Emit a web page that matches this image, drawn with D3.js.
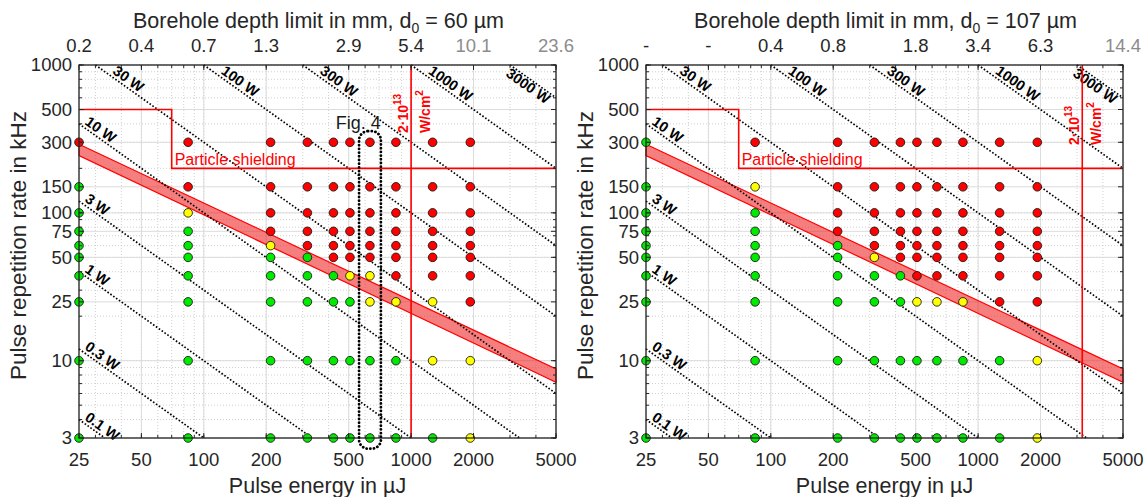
<!DOCTYPE html>
<html>
<head>
<meta charset="utf-8">
<script src="https://cdn.jsdelivr.net/npm/d3@7"></script>
<style>
  body { margin: 0; background: #fff; }
  svg { display: block; font-family: "Liberation Sans", Arial, Helvetica, sans-serif; }
</style>
</head>
<body>
<svg id="chart" width="1148" height="497"></svg>
<script>
// measured grid: pulse energy columns (µJ) and repetition rate rows (kHz)
const energies = [25, 84, 210, 316, 422, 507, 633, 845, 1270, 1930];
const rates = [300, 150, 100, 75, 60, 50, 37.5, 25, 10, 3];

// result per energy column, one letter per rate row above (R red, Y yellow, G green)
const resultsLeft = [
  'RGGGGGGGGG', 'RRYGGGGGGG', 'RRRRYGGGGG', 'RRRRRGGGGG', 'RRRRRRGGGG',
  'RRRRRRYGGG', 'RRRRRRYYGG', 'RRRRRRRYGG', 'RRRRRRRYYG', 'RRRRRRRRYY'
];
const resultsRight = [
  'GGGGGGGGGG', 'RYGGGGGGGG', 'RRRRGGGGGG', 'RRRRRYGGGG', 'RRRRRRGGGG',
  'RRRRRRRYGG', 'RRRRRRRYGG', 'RRRRRRRYGG', 'RRRRRRRRGG', 'RRRRRRRRYY'
];

const energyTicks = [25, 50, 100, 200, 500, 1000, 2000, 5000];
const rateTicks = [3, 10, 25, 50, 75, 100, 150, 300, 500, 1000];
const depthLabelsLeft = ['0.2', '0.4', '0.7', '1.3', '2.9', '5.4', '10.1', '23.6'];
const depthLabelsRight = ['-', '-', '0.4', '0.8', '1.8', '3.4', '6.3', '14.4'];
const depthGreyLeft = [0, 0, 0, 0, 0, 0, 1, 1];
const depthGreyRight = [0, 0, 0, 0, 0, 0, 0, 1];

// average power iso-lines in W (E[µJ] * f[kHz] = P[mW])
const powerLevels = [0.1, 0.3, 1, 3, 10, 30, 100, 300, 1000, 3000];

// red band edges, [energy, rate]
const bandUpper = [[25, 291], [5000, 8.8]];
const bandLower = [[25, 244], [5000, 7.15]];
// particle shielding limit
const shielding = [[25, 500], [70, 500], [70, 200], [5000, 200]];
// energy where 2e13 W/cm^2 is reached
const intensityEnergyLeft = 1000;
const intensityEnergyRight = 3180;
// dotted "Fig. 4" frame (left panel only)
const fig4Energy = [561, 715];
const fig4Rate = [2.54, 357];

const colors = { R: '#ff0000', Y: '#ffff00', G: '#00ea00' };
const ink = '#262626';

const svg = d3.select('#chart');
const W = 477, H = 373;

function minorValues(lo, hi) {
  const out = [];
  for (let k = 1; k <= 1000; k *= 10) {
    for (let m = 1; m <= 9; m++) {
      const v = m * k;
      if (v >= lo && v <= hi) out.push(v);
    }
  }
  return out;
}

function drawPanel(left, cfg) {
  const g = svg.append('g').attr('transform', `translate(${left},65)`);
  const x = d3.scaleLog().domain([25, 5000]).range([0, W]);
  const y = d3.scaleLog().domain([3, 1000]).range([H, 0]);

  // minor grid (dotted)
  const grid = g.append('g');
  grid.selectAll('.vminor').data(minorValues(25, 5000)).enter().append('line')
    .attr('x1', d => x(d)).attr('x2', d => x(d)).attr('y1', 0).attr('y2', H)
    .attr('stroke', '#c4c4c4').attr('stroke-width', 0.8).attr('stroke-dasharray', '1,2');
  grid.selectAll('.hminor').data(minorValues(3, 1000)).enter().append('line')
    .attr('y1', d => y(d)).attr('y2', d => y(d)).attr('x1', 0).attr('x2', W)
    .attr('stroke', '#c4c4c4').attr('stroke-width', 0.8).attr('stroke-dasharray', '1,2');
  // major grid
  grid.selectAll('.vmajor').data(energyTicks).enter().append('line')
    .attr('x1', d => x(d)).attr('x2', d => x(d)).attr('y1', 0).attr('y2', H)
    .attr('stroke', '#dcdcdc').attr('stroke-width', 1);
  grid.selectAll('.hmajor').data(rateTicks).enter().append('line')
    .attr('y1', d => y(d)).attr('y2', d => y(d)).attr('x1', 0).attr('x2', W)
    .attr('stroke', '#dcdcdc').attr('stroke-width', 1);

  // red band
  const band = bandUpper.concat(bandLower.slice().reverse());
  g.append('path')
    .datum(band)
    .attr('d', d3.line().x(d => x(d[0])).y(d => y(d[1])).curve(d3.curveLinearClosed))
    .attr('fill', 'rgba(238,40,40,0.6)')
    .attr('stroke', '#ff0000').attr('stroke-width', 1.2);

  // power iso-lines
  powerLevels.forEach(p => {
    const mW = p * 1000;
    const e0 = Math.max(25, mW / 1000), e1 = Math.min(5000, mW / 3);
    const x0 = x(e0), y0 = y(mW / e0), x1 = x(e1), y1 = y(mW / e1);
    g.append('line')
      .attr('x1', x0).attr('y1', y0).attr('x2', x1).attr('y2', y1)
      .attr('stroke', '#000').attr('stroke-width', 1.7).attr('stroke-dasharray', '1.6,1.9');
    const ang = Math.atan2(y1 - y0, x1 - x0) * 180 / Math.PI;
    const fromTop = e0 > 25;
    const below = p >= 3000;
    g.append('text')
      .attr('transform', `translate(${x0},${y0}) rotate(${ang})`)
      .attr('x', below ? 2 : (fromTop ? 18 : 4))
      .attr('y', below ? 11.5 : -3)
      .attr('font-size', 14.5).attr('font-weight', 'bold').attr('fill', '#000')
      .text(`${p} W`);
  });

  // particle shielding border
  g.append('path')
    .datum(shielding)
    .attr('d', d3.line().x(d => x(d[0])).y(d => y(d[1])))
    .attr('fill', 'none').attr('stroke', '#ff0000').attr('stroke-width', 1.6);
  g.append('text')
    .attr('x', x(shielding[1][0]) + 3).attr('y', y(shielding[2][1]) - 3)
    .attr('font-size', 16).attr('fill', '#ff0000')
    .text('Particle shielding');

  // intensity limit
  const xi = x(cfg.intensityEnergy);
  g.append('line')
    .attr('x1', xi).attr('x2', xi).attr('y1', 0).attr('y2', H)
    .attr('stroke', '#ff0000').attr('stroke-width', 1.6);
  const t1 = g.append('text')
    .attr('transform', `translate(${xi - 3},${cfg.intensityLabelY}) rotate(-90)`)
    .attr('font-size', 14).attr('font-weight', 'bold').attr('fill', '#ff0000');
  t1.append('tspan').text('2·10');
  t1.append('tspan').attr('font-size', 10).attr('dy', -7).text('13');
  const t2 = g.append('text')
    .attr('transform', `translate(${xi + 19},${cfg.intensityLabelY}) rotate(-90)`)
    .attr('font-size', 14).attr('font-weight', 'bold').attr('fill', '#ff0000');
  t2.append('tspan').text('W/cm');
  t2.append('tspan').attr('font-size', 10).attr('dy', -7).text('2');

  // measured points
  const pts = [];
  energies.forEach((e, i) => {
    rates.forEach((f, j) => pts.push({ e, f, c: cfg.results[i][j] }));
  });
  g.selectAll('.pt').data(pts).enter().append('circle')
    .attr('cx', d => x(d.e)).attr('cy', d => y(d.f)).attr('r', 4.3)
    .attr('fill', d => colors[d.c])
    .attr('stroke', '#1a1a1a').attr('stroke-width', 0.9);

  // axis box with inward ticks
  g.append('rect').attr('width', W).attr('height', H)
    .attr('fill', 'none').attr('stroke', ink).attr('stroke-width', 1.3);
  const ticks = g.append('g').attr('stroke', ink).attr('stroke-width', 1);
  const xMinor = minorValues(25, 5000);
  const yMinor = minorValues(3, 1000);
  energyTicks.forEach(v => {
    ticks.append('line').attr('x1', x(v)).attr('x2', x(v)).attr('y1', H).attr('y2', H - 5);
    ticks.append('line').attr('x1', x(v)).attr('x2', x(v)).attr('y1', 0).attr('y2', 5);
  });
  xMinor.forEach(v => {
    ticks.append('line').attr('x1', x(v)).attr('x2', x(v)).attr('y1', H).attr('y2', H - 3);
    ticks.append('line').attr('x1', x(v)).attr('x2', x(v)).attr('y1', 0).attr('y2', 3);
  });
  rateTicks.forEach(v => {
    ticks.append('line').attr('y1', y(v)).attr('y2', y(v)).attr('x1', 0).attr('x2', 5);
    ticks.append('line').attr('y1', y(v)).attr('y2', y(v)).attr('x1', W).attr('x2', W - 5);
  });
  yMinor.forEach(v => {
    ticks.append('line').attr('y1', y(v)).attr('y2', y(v)).attr('x1', 0).attr('x2', 3);
    ticks.append('line').attr('y1', y(v)).attr('y2', y(v)).attr('x1', W).attr('x2', W - 3);
  });

  // Fig. 4 frame
  if (cfg.fig4) {
    const bx0 = x(fig4Energy[0]), bx1 = x(fig4Energy[1]);
    const by0 = y(fig4Rate[1]), by1 = y(fig4Rate[0]);
    g.append('rect')
      .attr('x', bx0).attr('y', by0).attr('width', bx1 - bx0).attr('height', by1 - by0)
      .attr('rx', 9).attr('ry', 9)
      .attr('fill', 'none').attr('stroke', '#000').attr('stroke-width', 2.8)
      .attr('stroke-linecap', 'round').attr('stroke-dasharray', '0.1,3.6');
    g.append('text')
      .attr('x', bx1).attr('y', by0 - 2).attr('text-anchor', 'end')
      .attr('font-size', 18).attr('fill', '#1a1a1a')
      .text('Fig. 4');
  }

  // tick labels
  g.selectAll('.xl').data(energyTicks).enter().append('text')
    .attr('x', d => x(d)).attr('y', H + 28).attr('text-anchor', 'middle')
    .attr('font-size', 18.5).attr('fill', ink).text(d => d);
  g.selectAll('.yl').data(rateTicks).enter().append('text')
    .attr('x', -7).attr('y', d => y(d)).attr('dy', '0.35em').attr('text-anchor', 'end')
    .attr('font-size', 18.5).attr('fill', ink).text(d => d);
  g.selectAll('.tl').data(energyTicks).enter().append('text')
    .attr('x', d => x(d)).attr('y', -13).attr('text-anchor', 'middle')
    .attr('font-size', 18.5)
    .attr('fill', (d, i) => cfg.depthGrey[i] ? '#8c8c8c' : ink)
    .text((d, i) => cfg.depthLabels[i]);

  // axis titles
  g.append('text')
    .attr('x', W / 2).attr('y', H + 55).attr('text-anchor', 'middle')
    .attr('font-size', 21.5).attr('fill', ink).text('Pulse energy in µJ');
  g.append('text')
    .attr('transform', `translate(-53,${H / 2 - 6}) rotate(-90)`)
    .attr('text-anchor', 'middle')
    .attr('font-size', 22.5).attr('fill', ink).text('Pulse repetition rate in kHz');
  const title = g.append('text')
    .attr('x', W / 2 + 1).attr('y', -37).attr('text-anchor', 'middle')
    .attr('font-size', 21.5).attr('fill', ink);
  title.append('tspan').text('Borehole depth limit in mm, d');
  title.append('tspan').attr('font-size', 14).attr('dy', 5).text('0');
  title.append('tspan').attr('dy', -5).text(` = ${cfg.d0} µm`);
}

drawPanel(79, {
  results: resultsLeft, depthLabels: depthLabelsLeft, depthGrey: depthGreyLeft,
  intensityEnergy: intensityEnergyLeft, intensityLabelY: 68, fig4: true, d0: 60
});
drawPanel(646, {
  results: resultsRight, depthLabels: depthLabelsRight, depthGrey: depthGreyRight,
  intensityEnergy: intensityEnergyRight, intensityLabelY: 80, fig4: false, d0: 107
});
</script>
</body>
</html>
